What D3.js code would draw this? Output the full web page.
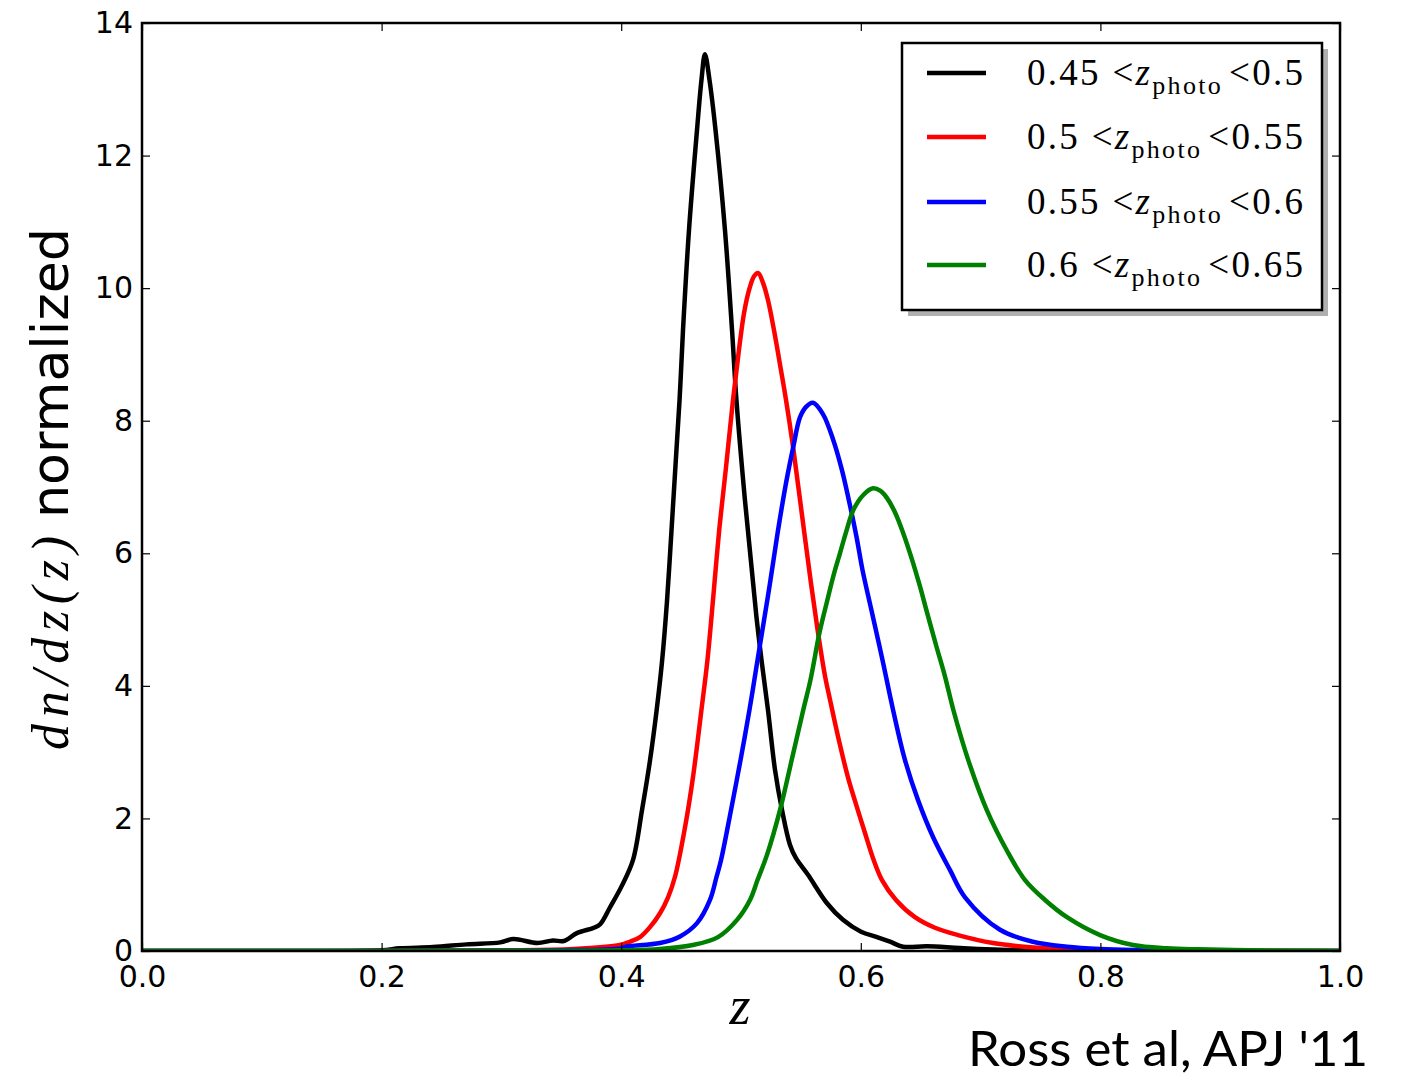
<!DOCTYPE html>
<html>
<head>
<meta charset="utf-8">
<script src="https://cdn.jsdelivr.net/npm/d3@7"></script>
<style>
  body { margin: 0; background: #fff; }
  svg { display: block; }
</style>
</head>
<body>
<svg id="chart" width="1403" height="1078"></svg>
<script>
// Redshift distributions dn/dz for four photometric-redshift slices

// 0.45 < z_photo < 0.5
const zBlack  = [0.00, 0.10, 0.20, 0.215, 0.243, 0.271, 0.299, 0.31, 0.33, 0.343, 0.352, 0.363, 0.377, 0.3823, 0.3907, 0.4007, 0.4098, 0.4174, 0.4240, 0.4295, 0.4341, 0.4382, 0.4420, 0.4453, 0.4487, 0.4516, 0.4566, 0.4633, 0.4670, 0.4699, 0.4737, 0.4787, 0.4866, 0.4925, 0.4962, 0.5033, 0.5088, 0.5129, 0.5171, 0.5225, 0.5284, 0.5342, 0.5409, 0.5459, 0.5559, 0.5718, 0.5851, 0.6002, 0.6135, 0.6244, 0.6352, 0.6553, 0.6828, 0.7162, 0.7997, 1.00];
const dnBlack = [0.00, 0.00, 0.01, 0.04, 0.06, 0.10, 0.13, 0.18, 0.12, 0.16, 0.15, 0.27, 0.35, 0.40, 0.66, 0.99, 1.37, 2.13, 2.87, 3.62, 4.37, 5.27, 6.35, 7.32, 8.31, 9.37, 10.88, 12.39, 13.14, 13.53, 13.14, 12.39, 10.88, 9.37, 8.31, 6.80, 5.79, 5.04, 4.39, 3.64, 2.73, 2.13, 1.60, 1.40, 1.15, 0.72, 0.47, 0.29, 0.21, 0.14, 0.065, 0.07, 0.045, 0.02, 0.005, 0.00];

// 0.5 < z_photo < 0.55
const zRed  = [0.00, 0.30, 0.36, 0.3990, 0.4073, 0.4157, 0.4240, 0.4324, 0.4391, 0.4449, 0.4533, 0.4599, 0.4670, 0.4720, 0.4766, 0.4816, 0.4875, 0.4933, 0.4983, 0.5025, 0.5067, 0.5109, 0.5142, 0.5184, 0.5225, 0.5275, 0.5334, 0.5376, 0.5438, 0.5509, 0.5584, 0.5643, 0.5701, 0.5743, 0.5822, 0.5893, 0.5952, 0.6035, 0.6102, 0.6177, 0.6294, 0.6452, 0.6619, 0.6811, 0.7104, 0.7387, 0.7663, 0.8080, 1.00];
const dnRed = [0.00, 0.01, 0.03, 0.09, 0.14, 0.21, 0.36, 0.57, 0.81, 1.12, 1.87, 2.62, 3.64, 4.39, 5.29, 6.31, 7.30, 8.31, 9.07, 9.62, 9.97, 10.18, 10.23, 10.08, 9.82, 9.37, 8.76, 8.31, 7.56, 6.58, 5.55, 4.80, 4.15, 3.79, 3.14, 2.62, 2.26, 1.78, 1.40, 1.07, 0.77, 0.51, 0.35, 0.24, 0.12, 0.06, 0.03, 0.01, 0.00];

// 0.55 < z_photo < 0.6
const zBlue  = [0.00, 0.30, 0.35, 0.40, 0.4040, 0.4324, 0.4491, 0.4633, 0.4741, 0.4796, 0.4833, 0.4917, 0.4996, 0.5071, 0.5138, 0.5175, 0.5242, 0.5305, 0.5376, 0.5437, 0.5492, 0.5543, 0.5601, 0.5684, 0.5768, 0.5839, 0.5898, 0.5964, 0.6014, 0.6089, 0.6181, 0.6269, 0.6369, 0.6477, 0.6603, 0.6745, 0.6870, 0.7162, 0.7437, 0.7721, 0.7997, 0.8272, 0.8831, 1.00];
const dnBlue = [0.00, 0.005, 0.01, 0.04, 0.065, 0.12, 0.22, 0.42, 0.77, 1.12, 1.37, 2.13, 2.88, 3.64, 4.39, 4.80, 5.55, 6.30, 7.06, 7.61, 8.05, 8.21, 8.27, 8.10, 7.72, 7.28, 6.82, 6.25, 5.75, 5.14, 4.39, 3.64, 2.88, 2.28, 1.72, 1.22, 0.81, 0.32, 0.14, 0.065, 0.03, 0.015, 0.005, 0.00];

// 0.6 < z_photo < 0.65
const zGreen  = [0.00, 0.30, 0.40, 0.432, 0.4599, 0.4808, 0.4967, 0.5075, 0.5138, 0.5217, 0.5326, 0.5423, 0.5520, 0.5580, 0.5655, 0.5715, 0.5770, 0.5826, 0.5882, 0.5937, 0.6021, 0.6102, 0.6165, 0.6216, 0.6285, 0.6355, 0.6425, 0.6494, 0.6548, 0.6632, 0.6703, 0.6772, 0.6897, 0.7051, 0.7218, 0.7371, 0.7538, 0.7721, 0.7997, 0.8272, 0.8556, 0.8831, 0.9107, 0.9666, 1.00];
const dnGreen = [0.00, 0.003, 0.01, 0.03, 0.09, 0.21, 0.47, 0.77, 1.07, 1.45, 2.13, 2.88, 3.64, 4.09, 4.80, 5.25, 5.65, 6.00, 6.35, 6.65, 6.88, 6.98, 6.94, 6.84, 6.62, 6.30, 5.92, 5.50, 5.14, 4.59, 4.14, 3.64, 2.88, 2.13, 1.52, 1.07, 0.77, 0.51, 0.24, 0.09, 0.04, 0.025, 0.015, 0.005, 0.00];

const sliceLow  = ["0.45", "0.5", "0.55", "0.6"];
const sliceHigh = ["0.5", "0.55", "0.6", "0.65"];
const seriesColors = ["#000000", "#ff0000", "#0000ff", "#008000"];

const xTicks = [0.0, 0.2, 0.4, 0.6, 0.8, 1.0];
const yTicks = [0, 2, 4, 6, 8, 10, 12, 14];

const series = [
  { z: zBlack, v: dnBlack },
  { z: zRed,   v: dnRed },
  { z: zBlue,  v: dnBlue },
  { z: zGreen, v: dnGreen }
].map((s, i) => ({
  points: s.z.map((z, j) => [z, s.v[j]]),
  color: seriesColors[i],
  lo: sliceLow[i],
  hi: sliceHigh[i]
}));

const svg = d3.select("#chart");
const plotLeft = 142, plotRight = 1340, plotTop = 23, plotBottom = 951;

const x = d3.scaleLinear().domain([0, 1]).range([plotLeft, plotRight]);
const y = d3.scaleLinear().domain([0, 14]).range([plotBottom, plotTop]);

const tickFont = "DejaVu Sans, sans-serif";

svg.append("defs").append("clipPath").attr("id", "plot-clip")
  .append("rect").attr("x", plotLeft).attr("y", plotTop)
  .attr("width", plotRight - plotLeft).attr("height", plotBottom - plotTop);

// curves
const line = d3.line()
  .x(d => x(d[0]))
  .y(d => y(d[1]))
  .curve(d3.curveCatmullRom.alpha(0.5));

svg.append("g").attr("clip-path", "url(#plot-clip)")
  .selectAll("path").data(series).join("path")
  .attr("d", d => line(d.points))
  .attr("fill", "none")
  .attr("stroke", d => d.color)
  .attr("stroke-width", 4.5)
  .attr("stroke-linejoin", "round")
  .attr("stroke-linecap", "round");

// axes with inward ticks on all four sides
function styleAxis(g) {
  g.select(".domain").remove();
  g.selectAll(".tick line").attr("stroke", "#000").attr("stroke-width", 1.2);
  g.selectAll(".tick text").attr("fill", "#000")
    .style("font-family", tickFont).style("font-size", "30px");
}

svg.append("g").attr("transform", `translate(0,${plotBottom})`)
  .call(d3.axisBottom(x).tickValues(xTicks).tickFormat(d3.format(".1f"))
    .tickSizeInner(-8).tickSizeOuter(0).tickPadding(15))
  .call(styleAxis);

svg.append("g").attr("transform", `translate(0,${plotTop})`)
  .call(d3.axisTop(x).tickValues(xTicks).tickFormat("")
    .tickSizeInner(-8).tickSizeOuter(0))
  .call(styleAxis);

svg.append("g").attr("transform", `translate(${plotLeft},0)`)
  .call(d3.axisLeft(y).tickValues(yTicks).tickFormat(d3.format("d"))
    .tickSizeInner(-8).tickSizeOuter(0).tickPadding(9))
  .call(styleAxis);

svg.append("g").attr("transform", `translate(${plotRight},0)`)
  .call(d3.axisRight(y).tickValues(yTicks).tickFormat("")
    .tickSizeInner(-8).tickSizeOuter(0))
  .call(styleAxis);

// frame
svg.append("rect")
  .attr("x", plotLeft).attr("y", plotTop)
  .attr("width", plotRight - plotLeft).attr("height", plotBottom - plotTop)
  .attr("fill", "none").attr("stroke", "#000").attr("stroke-width", 2.5);

// axis titles
svg.append("text")
  .attr("x", 740).attr("y", 1024)
  .attr("text-anchor", "middle")
  .style("font-family", "Liberation Serif, DejaVu Serif, serif")
  .style("font-style", "italic")
  .style("font-size", "54px")
  .text("z");

const yTitle = svg.append("g").attr("transform", "translate(68,0) rotate(-90)");
yTitle.append("text")
  .attr("x", -750).attr("y", 0)
  .attr("textLength", 214).attr("lengthAdjust", "spacing")
  .style("font-family", "Liberation Serif, DejaVu Serif, serif")
  .style("font-style", "italic")
  .style("font-size", "52px")
  .text("dn/dz(z)");
yTitle.append("text")
  .attr("x", -518).attr("y", 0)
  .attr("textLength", 290).attr("lengthAdjust", "spacingAndGlyphs")
  .style("font-family", tickFont)
  .style("font-size", "52px")
  .text("normalized");

// legend
const lg = { x: 902, y: 43, w: 420, h: 267 };
const rowY = [73, 137, 202, 265];
svg.append("rect")
  .attr("x", lg.x + 6).attr("y", lg.y + 6)
  .attr("width", lg.w).attr("height", lg.h)
  .attr("fill", "#b0b0b0");
svg.append("rect")
  .attr("x", lg.x).attr("y", lg.y)
  .attr("width", lg.w).attr("height", lg.h)
  .attr("fill", "#fff").attr("stroke", "#000").attr("stroke-width", 2.5);

const rows = svg.append("g").selectAll("g").data(series).join("g")
  .attr("transform", (d, i) => `translate(0,${rowY[i]})`);
rows.append("line")
  .attr("x1", 927).attr("x2", 986)
  .attr("stroke", d => d.color).attr("stroke-width", 4.5);
const label = rows.append("text")
  .attr("x", 1027).attr("y", 12)
  .attr("textLength", 276).attr("lengthAdjust", "spacing")
  .style("font-family", "Liberation Serif, DejaVu Serif, serif")
  .style("font-size", "37px");
label.append("tspan").text(d => d.lo + " <");
label.append("tspan").style("font-style", "italic").text("z");
label.append("tspan").attr("dy", 9).style("font-size", "26px").text("photo");
label.append("tspan").attr("dy", -9).attr("dx", 6).text(d => "<" + d.hi);

// citation
svg.append("text")
  .attr("x", 1368).attr("y", 1066)
  .attr("text-anchor", "end")
  .attr("textLength", 400).attr("lengthAdjust", "spacingAndGlyphs")
  .style("font-family", "Comic Sans MS, Lato, sans-serif")
  .style("font-size", "48px")
  .text("Ross et al, APJ '11");
</script>
</body>
</html>
